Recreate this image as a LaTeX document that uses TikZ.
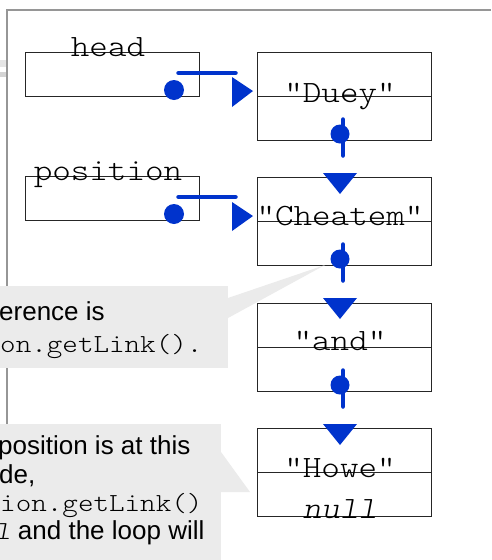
\documentclass[tikz,border=0pt]{standalone}
\usepackage{fontspec}
\newfontfamily\monof[Extension=.otf, UprightFont=lmmonolt10-regular, ItalicFont=lmmonolt10-oblique, FakeStretch=1.14]{lmmonolt10-regular}
\newfontfamily\sansf{Liberation Sans}
\definecolor{linkblue}{RGB}{0,51,204}
\definecolor{callgray}{RGB}{235,235,235}
\definecolor{framegray}{RGB}{150,150,150}
\begin{document}
\begin{tikzpicture}[x=1pt,y=-1pt,
  boxline/.style={draw=black!85, line width=1pt},
  smallbox/.style={boxline, minimum width=174pt, minimum height=44pt, anchor=north west, inner sep=0pt},
  listbox/.style={boxline, minimum width=174pt, minimum height=88pt, anchor=north west, inner sep=0pt},
  monotext/.style={font=\monof\fontsize{31}{31}\selectfont, inner sep=0pt, anchor=base},
  monoit/.style={font=\monof\itshape\fontsize{31}{31}\selectfont, inner sep=0pt, anchor=base},
  calltext/.style={font=\sansf\fontsize{26}{26}\selectfont, inner sep=0pt, anchor=base west},
  callmono/.style={font=\monof\fontsize{26}{26}\selectfont, inner sep=0pt, anchor=base west},
  link/.style={draw=linkblue, line width=4.5pt, line cap=round},
  bigdot/.style={circle, fill=linkblue, inner sep=0pt, minimum size=20pt},
  smalldot/.style={circle, fill=linkblue, inner sep=0pt, minimum size=19pt},
  tipfill/.style={fill=linkblue}]
\useasboundingbox (0,0) rectangle (491,560);
\fill[white] (0,0) rectangle (491,560);
% frame
\draw[framegray, line width=1.5pt] (7,560) -- (7,10) -- (491,10);
\fill[black!10] (0,60) rectangle (6,67);
\fill[black!17] (0,72) rectangle (6,77);
% variable boxes
\node[smallbox] (headbox) at (25,52) {};
\node[smallbox] (posbox) at (25,176) {};
% list boxes
\node[listbox] (duey) at (257,52) {};
\node[listbox] (cheatem) at (257,177) {};
\node[listbox] (and) at (257,303) {};
\node[listbox] (howe) at (257,428) {};
\draw[boxline] (duey.west) -- (duey.east);
\draw[boxline] (cheatem.west) -- (cheatem.east);
\draw[boxline] (and.west) -- (and.east);
\draw[boxline] (howe.west) -- (howe.east);
% callout 1
\fill[callgray] (0,286) rectangle (228,368);
\fill[callgray] (228,298) -- (325,265) -- (228,318) -- cycle;
% callout 2
\fill[callgray] (0,424) rectangle (221,560);
\fill[callgray] (221,452) -- (250,492) -- (221,492) -- cycle;
% horizontal links
\node[bigdot] (hdot) at (174,90) {};
\coordinate (ha) at (178.5,73);
\coordinate (hb) at (235.5,73);
\draw[link] (ha) -- (hb);
\fill[tipfill] (232,77) -- (253,91) -- (232,107) -- cycle;
\node[bigdot] (pdot) at (174,214) {};
\coordinate (pa) at (178.5,197);
\coordinate (pb) at (235.5,197);
\draw[link] (pa) -- (pb);
\fill[tipfill] (232,202) -- (253,216) -- (232,231) -- cycle;
% vertical links
\foreach \t/\n in {52/a,177/b,303/c}{
  \coordinate (va\n) at (343,\t+67.5);
  \coordinate (vb\n) at (343,\t+103.5);
  \draw[link] (va\n) -- (vb\n);
  \node[smalldot] (vdot\n) at (340,\t+82) {};
  \fill[tipfill] (323,\t+121) -- (357,\t+121) -- (340,\t+142) -- cycle;
}
% texts
\node[monotext] (headlbl) at (108,56) {head};
\node[monotext] (poslbl) at (108,180) {position};
\node[monotext] (dueytxt) at (340,102) {"Duey"};
\node[monotext] (cheatemtxt) at (340,225) {"Cheatem"};
\node[monotext] (andtxt) at (340,350) {"and"};
\node[monotext] (howetxt) at (340,477) {"Howe"};
\node[monoit] (nulltxt) at (340,518) {null};
% callout texts
\node[calltext] (c1a) at (-1,320) {erence is};
\node[callmono] (c1b) at (0,352) {on.getLink().};
\node[calltext] (c2a) at (-2,454) {position is at this};
\node[calltext] (c2b) at (-1,483) {de,};
\node[callmono] (c2c) at (0,511) {ion.getLink()};
\node[calltext] (c2d) at (-5,539) {{\monof\itshape l} and the loop will};
\end{tikzpicture}
\end{document}
